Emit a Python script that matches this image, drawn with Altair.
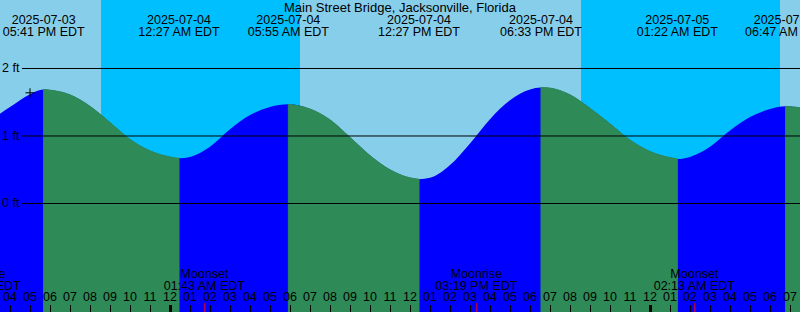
import altair as alt
import pandas as pd

STATION = "Main Street Bridge, Jacksonville, Florida"
ORIGIN = pd.Timestamp("2025-07-04 00:00")
FONT = "Liberation Sans"

# Tide events (EDT)
event_times = ["2025-07-03 17:41", "2025-07-04 00:27", "2025-07-04 05:55", "2025-07-04 12:27",
               "2025-07-04 18:33", "2025-07-05 01:22", "2025-07-05 06:47"]
event_kinds = ["High", "Low", "High", "Low", "High", "Low", "High"]

# Tide curve samples (feet)
curve_times = [
    "2025-07-03 15:30", "2025-07-03 16:00", "2025-07-03 17:00", "2025-07-03 17:41", "2025-07-03 18:00",
    "2025-07-03 19:00", "2025-07-03 20:00", "2025-07-03 21:00", "2025-07-03 22:00", "2025-07-03 23:00",
    "2025-07-04 00:00", "2025-07-04 00:27", "2025-07-04 01:00", "2025-07-04 02:00", "2025-07-04 03:00",
    "2025-07-04 04:00", "2025-07-04 05:00", "2025-07-04 05:55", "2025-07-04 07:00", "2025-07-04 08:00",
    "2025-07-04 09:00", "2025-07-04 10:00", "2025-07-04 11:00", "2025-07-04 12:00", "2025-07-04 12:27",
    "2025-07-04 13:00", "2025-07-04 14:00", "2025-07-04 15:00", "2025-07-04 16:00", "2025-07-04 17:00",
    "2025-07-04 18:00", "2025-07-04 18:33", "2025-07-04 19:00", "2025-07-04 20:00", "2025-07-04 21:00",
    "2025-07-04 22:00", "2025-07-04 23:00", "2025-07-05 00:00", "2025-07-05 01:00", "2025-07-05 01:22",
    "2025-07-05 02:00", "2025-07-05 03:00", "2025-07-05 04:00", "2025-07-05 05:00", "2025-07-05 06:00",
    "2025-07-05 06:47", "2025-07-05 07:30"]
curve_ft = [
    1.33, 1.43, 1.62, 1.69, 1.68,
    1.61, 1.44, 1.20, 0.95, 0.78,
    0.69, 0.67, 0.69, 0.84, 1.10,
    1.31, 1.43, 1.47, 1.40, 1.24,
    0.98, 0.71, 0.50, 0.38, 0.36,
    0.38, 0.57, 0.89, 1.25, 1.53,
    1.69, 1.72, 1.71, 1.61, 1.41,
    1.18, 0.94, 0.77, 0.68, 0.66,
    0.69, 0.84, 1.08, 1.28, 1.40,
    1.44, 1.42]

# Night periods (sunset -> sunrise)
night_starts = ["2025-07-03 20:33", "2025-07-04 20:33"]
night_ends = ["2025-07-04 06:30", "2025-07-05 06:30"]

# Moon events
moon_times = ["2025-07-03 14:29", "2025-07-04 01:43", "2025-07-04 15:19", "2025-07-05 02:13"]
moon_kinds = ["Moonrise", "Moonset", "Moonrise", "Moonset"]

grid_ft = [0, 1, 2]
marker_time = ["2025-07-03 17:00"]
marker_ft = [1.64]

hour_start = "2025-07-03 16:00"
hour_end = "2025-07-05 07:00"


def hrs(t):
    return (pd.Timestamp(t) - ORIGIN) / pd.Timedelta(hours=1)


X_SCALE = alt.Scale(domain=[-8.5, 31.5], nice=False, zero=False)
Y_SCALE = alt.Scale(domain=[-1.6074, 3.0148], nice=False, zero=False)


def X(field):
    return alt.X(field, type="quantitative", scale=X_SCALE, axis=None)


def Y(field):
    return alt.Y(field, type="quantitative", scale=Y_SCALE, axis=None, stack=None)


# curve dataframe
curve = pd.DataFrame({"t": curve_times, "ft": curve_ft})
curve["h"] = curve["t"].map(hrs)

ev_h = [hrs(t) for t in event_times]
bounds = [curve["h"].min()] + ev_h + [curve["h"].max()]
seg_rows = []
for k in range(len(bounds) - 1):
    a, b = bounds[k], bounds[k + 1]
    if k < len(event_kinds):
        phase = "rising" if event_kinds[k] == "High" else "falling"
    else:
        phase = "rising" if event_kinds[-1] == "Low" else "falling"
    sub = curve[(curve["h"] >= a - 1e-9) & (curve["h"] <= b + 1e-9)]
    for _, r in sub.iterrows():
        seg_rows.append({"h": r["h"], "ft": r["ft"], "seg": k, "phase": phase})
segs = pd.DataFrame(seg_rows)
falling = segs[segs["phase"] == "falling"]

base_area = alt.Chart(curve).mark_area(interpolate="monotone", color="#0000FF").encode(
    x=X("h"), y=Y("ft"), y2=alt.value(312))
green_area = alt.Chart(falling).mark_area(
    interpolate="monotone", fill="#2E8B57", stroke="#2E8B57", strokeWidth=1, opacity=1
).encode(x=X("h"), y=Y("ft"), y2=alt.value(312), detail="seg:N")

nights = pd.DataFrame({"h0": [hrs(t) for t in night_starts], "h1": [hrs(t) for t in night_ends]})
night_rect = alt.Chart(nights).mark_rect(color="#00BFFF").encode(
    x=X("h0"), x2="h1", y=alt.value(0), y2=alt.value(312))

grid = pd.DataFrame({"ft": grid_ft, "label": [f"{g} ft" for g in grid_ft]})
grid_rule = alt.Chart(grid).mark_rule(color="black", strokeWidth=1).encode(
    y=Y("ft"), x=alt.value(22), x2=alt.value(800))
grid_text = alt.Chart(grid).mark_text(font=FONT, fontSize=12.5, align="left", baseline="middle",
                                      color="black").encode(
    y=Y("ft"), x=alt.value(2), text="label:N")

events = pd.DataFrame({"h": ev_h,
                       "date": [pd.Timestamp(t).strftime("%Y-%m-%d") for t in event_times],
                       "time": [pd.Timestamp(t).strftime("%I:%M %p EDT") for t in event_times]})
ev_date = alt.Chart(events).mark_text(font=FONT, fontSize=12.5, baseline="middle", color="black").encode(
    x=X("h"), y=alt.value(19.5), text="date:N")
ev_time = alt.Chart(events).mark_text(font=FONT, fontSize=12.5, baseline="middle", color="black").encode(
    x=X("h"), y=alt.value(31.5), text="time:N")

title = alt.Chart(pd.DataFrame({"s": [STATION]})).mark_text(
    font=FONT, fontSize=13, baseline="middle", color="black").encode(
    x=alt.value(400), y=alt.value(7.5), text="s:N")

hours = pd.date_range(hour_start, hour_end, freq="h")
hr = pd.DataFrame({"h": [hrs(t) for t in hours],
                   "lab": [t.strftime("%I") for t in hours],
                   "w": [3 if t.hour == 0 else 1 for t in hours]})
hr_text = alt.Chart(hr).mark_text(font=FONT, fontSize=12.5, baseline="middle", color="black").encode(
    x=X("h"), y=alt.value(297), text="lab:N")
hr_tick = alt.Chart(hr).mark_rule(color="black").encode(
    x=X("h"), y=alt.value(305), y2=alt.value(312),
    strokeWidth=alt.StrokeWidth("w:Q", scale=None), xOffset=alt.value(0.5))

moon = pd.DataFrame({"h": [hrs(t) for t in moon_times], "kind": moon_kinds,
                     "time": [pd.Timestamp(t).strftime("%I:%M %p EDT") for t in moon_times]})
moon_kind = alt.Chart(moon).mark_text(font=FONT, fontSize=12.5, baseline="middle", color="black").encode(
    x=X("h"), y=alt.value(274), text="kind:N")
moon_time = alt.Chart(moon).mark_text(font=FONT, fontSize=12.5, baseline="middle", color="black").encode(
    x=X("h"), y=alt.value(285.5), text="time:N")
moon_tick = alt.Chart(moon).mark_rule(color="#FF0000", strokeWidth=1).encode(
    x=X("h"), y=alt.value(303), y2=alt.value(312), xOffset=alt.value(0.5))

mk = pd.DataFrame({"h": [hrs(t) for t in marker_time], "ft": marker_ft})
marker = alt.Chart(mk).mark_point(shape="M-1,0L1,0M0,-1L0,1", size=81, filled=False,
                                  stroke="black", strokeWidth=1, opacity=1).encode(
    x=X("h"), y=Y("ft"))

chart = alt.layer(
    night_rect, base_area, green_area, grid_rule, grid_text, ev_date, ev_time, title,
    moon_kind, moon_time, hr_text, hr_tick, moon_tick, marker
).properties(
    width=800, height=312, padding=0, background="#87CEEB",
    autosize=alt.AutoSizeParams(type="none")
).configure_view(stroke=None)

chart.save("out.html", embed_options={"renderer": "svg", "actions": False})
